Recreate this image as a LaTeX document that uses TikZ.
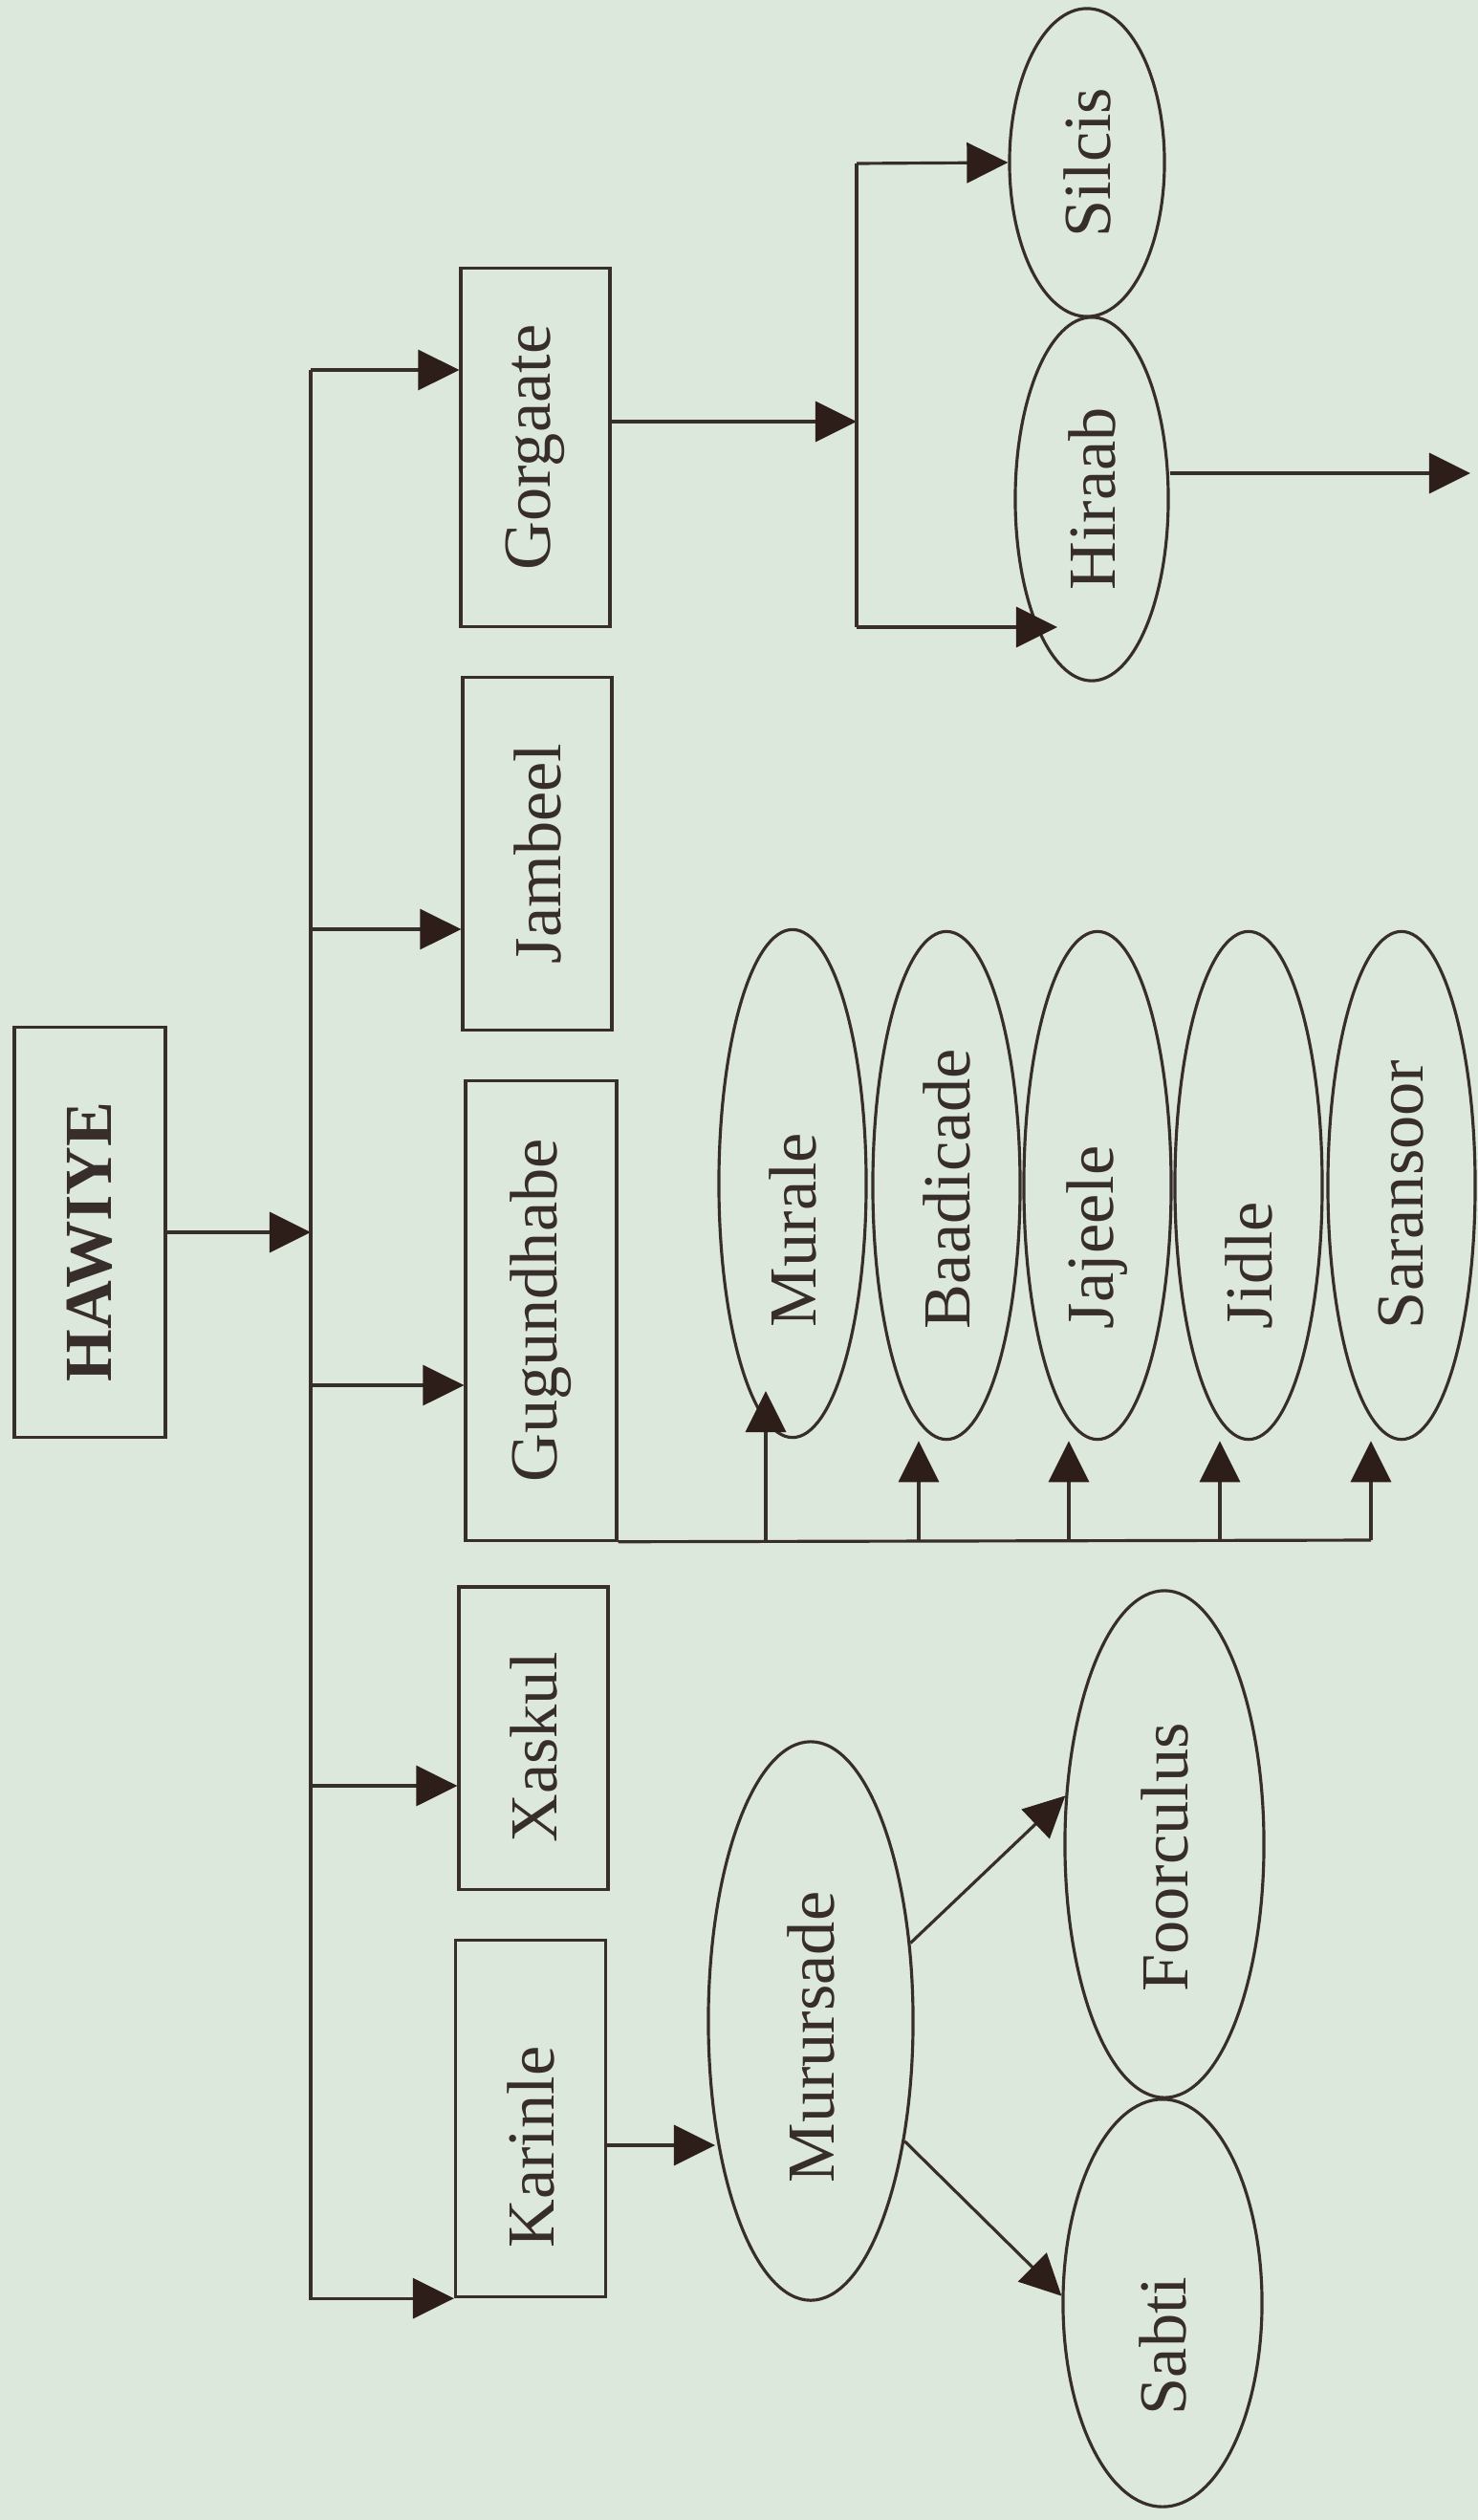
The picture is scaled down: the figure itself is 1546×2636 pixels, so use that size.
\documentclass[tikz,border=0pt]{standalone}
\usepackage{fontspec}
\setmainfont{Liberation Serif}
\usetikzlibrary{arrows.meta,shapes.geometric}
\definecolor{bg}{RGB}{221,232,221}
\definecolor{ink}{RGB}{55,45,42}
\definecolor{tip}{RGB}{45,30,25}
\newdimen\pxu \pxu=0.01cm
\newcommand\vt[2][0]{\rotatebox{90}{\kern-#1\pxu\kern-#1\pxu #2}}
\newcommand\vl[1]{\rotatebox{90}{\makebox[300\pxu][l]{#1}}}
\begin{document}
\begin{tikzpicture}[x=0.01cm,y=-0.01cm,
  every node/.style={font=\fontsize{20pt}{24pt}\selectfont, text=ink, inner sep=0pt},
  box/.style={draw=ink, line width=0.9pt, rectangle},
  ell/.style={draw=ink, line width=0.9pt, ellipse},
  ln/.style={draw=ink, line width=0.9pt},
  arr/.style={ln, -{Triangle[length=0.43cm,width=0.42cm,fill=tip,color=tip]}}]
\fill[bg] (0,0) rectangle (1546,2636);
\useasboundingbox (0,0) rectangle (1546,2636);

% top-level boxes
\node[box, minimum width=1.58cm, minimum height=4.28cm] (haw) at (94,1289) {\vt[10]{\bfseries HAWIYE}};
\node[box, minimum width=1.56cm, minimum height=3.74cm] (gor) at (560,468) {\vt{Gorgaate}};
\node[box, minimum width=1.56cm, minimum height=3.68cm] (jam) at (562,893) {\vt{Jambeel}};
\node[box, minimum width=1.58cm, minimum height=4.80cm] (gug) at (566,1371) {\vt{Gugundhabe}};
\node[box, minimum width=1.56cm, minimum height=3.16cm] (xas) at (558,1818) {\vt[10]{Xaskul}};
\node[box, minimum width=1.57cm, minimum height=3.73cm] (kar) at (555,2216) {\vt[30]{Karinle}};

% ellipses
\node[ell, minimum width=1.62cm, minimum height=3.22cm] (sil) at (1137,170) {\vt{Silcis}};
\node[ell, minimum width=1.60cm, minimum height=3.80cm] (hir) at (1142,522) {\vt{Hiraab}};
\node[ell, minimum width=1.54cm, minimum height=5.31cm] (mur) at (829,1238) {\vl{Murale}};
\node[ell, minimum width=1.54cm, minimum height=5.31cm] (bad) at (990,1240) {\vl{Baadicade}};
\node[ell, minimum width=1.54cm, minimum height=5.31cm] (jaj) at (1148,1240) {\vl{Jajeele}};
\node[ell, minimum width=1.54cm, minimum height=5.31cm] (jid) at (1306,1240) {\vl{Jidle}};
\node[ell, minimum width=1.54cm, minimum height=5.31cm] (sar) at (1466,1240) {\vl{Saransoor}};
\node[ell, minimum width=2.14cm, minimum height=5.84cm] (mrs) at (848,2114) {\vt[17]{Murursade}};
\node[ell, minimum width=2.08cm, minimum height=5.30cm] (foo) at (1218,1929) {\vt[14]{Foorculus}};
\node[ell, minimum width=2.08cm, minimum height=4.26cm] (sab) at (1216,2409) {\vt[45]{Sabti}};

% HAWIYE to bus
\coordinate (bt) at (325,387);
\draw[arr] (haw.east) -- (haw.east -| bt);
\draw[arr] (bt) -- (bt -| gor.west);
\draw[arr] (bt) |- (kar.south west);
\coordinate (bj) at (325,972);
\draw[arr] (bj) -- (bj -| jam.west);
\coordinate (bg) at (325,1449);
\draw[arr] (bg) -- (bg -| gug.west);
\coordinate (bx) at (325,1868);
\draw[arr] (bx) -- (bx -| xas.west);

% Gugundhabe sub-branches
\coordinate (g1) at (801,1611);
\coordinate (g2) at (961,1611);
\coordinate (g3) at (1118,1611);
\coordinate (g4) at (1276,1611);
\coordinate (g5) at (1434,1611);
\coordinate (mt) at (801,1455);
\draw[ln] (gug.south east) -- (g5);
\draw[arr] (g1) -- (mt);
\draw[arr] (g2) -- (g2 |- bad.south);
\draw[arr] (g3) -- (g3 |- jaj.south);
\draw[arr] (g4) -- (g4 |- jid.south);
\draw[arr] (g5) -- (g5 |- sar.south);

% Gorgaate branch
\coordinate (gj) at (896,441);
\coordinate (gt) at (896,171);
\coordinate (gb2) at (896,656);
\coordinate (ht) at (1106,656);
\draw[arr] (gor.east |- gj) -- (gj);
\draw[ln] (gt) -- (gb2);
\draw[arr] (gt) -- (sil.west);
\draw[arr] (gb2) -- (ht);
\coordinate (hout) at (1538,495);
\draw[arr] (hout -| hir.east) -- (hout);

% Karinle branch
\coordinate (km) at (748,2244);
\draw[arr] (km -| kar.east) -- (km);
\draw[arr] (mrs.38) -- (foo.154);
\draw[arr] (mrs.-52) -- (sab.176);
\end{tikzpicture}
\end{document}
